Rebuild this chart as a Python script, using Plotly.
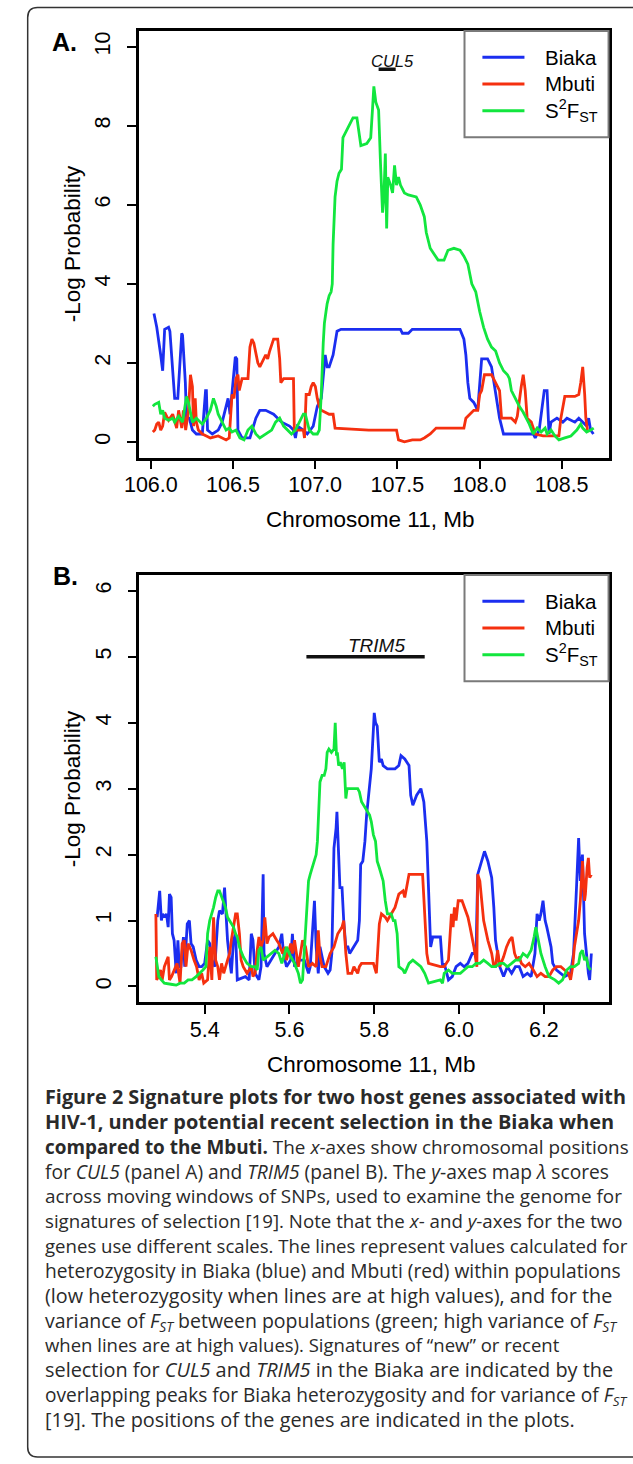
import plotly.graph_objects as go

W, H = 633, 1464

# ---------------- Panel A data (Chromosome 11, Mb ; -Log Probability) ----------------
a_biaka_x = [106.019, 106.036, 106.060, 106.072, 106.084, 106.108, 106.116, 106.133, 106.145, 106.164,
             106.169, 106.188, 106.193, 106.205, 106.210, 106.217, 106.234, 106.253, 106.277, 106.313,
             106.333, 106.338, 106.345, 106.374, 106.410, 106.434, 106.470, 106.482, 106.514, 106.523,
             106.530, 106.555, 106.603, 106.639, 106.663, 106.699, 106.747, 106.796, 106.844, 106.868,
             106.880, 106.892, 106.928, 106.952, 106.988, 107.013, 107.037, 107.061, 107.073, 107.085,
             107.109, 107.121, 107.133, 107.157, 107.519, 107.531, 107.567, 107.591, 107.881, 107.905,
             107.917, 107.929, 107.941, 107.965, 107.989, 108.013, 108.049, 108.073, 108.098, 108.122,
             108.146, 108.327, 108.339, 108.363, 108.394, 108.411, 108.423, 108.435, 108.471, 108.507,
             108.532, 108.580, 108.604, 108.628, 108.652, 108.664, 108.676, 108.693]
a_biaka_y = [3.25, 2.9, 2.2, 1.8, 2.85, 2.9, 2.8, 1.8, 1.1, 1.1,
             1.4, 2.75, 2.7, 2.0, 1.5, 0.6, 0.6, 0.3, 0.2, 0.2,
             1.3, 1.3, 0.3, 0.2, 0.3, 0.5, 1.1, 0.7, 2.15, 2.1,
             0.3, 0.1, 0.1, 0.6, 0.8, 0.8, 0.7, 0.5, 0.4, 0.3,
             0.1, 0.4, 0.3, 0.2, 0.4, 0.9, 1.1, 2.2, 1.9, 1.9,
             2.2, 2.5, 2.8, 2.85, 2.85, 2.75, 2.75, 2.85, 2.85, 2.6,
             2.2, 1.5, 1.1, 1.0, 0.8, 2.1, 2.1, 1.9, 1.2, 0.6,
             0.2, 0.2, 0.1, 0.3, 1.3, 1.3, 0.2, 0.5, 0.6, 0.5,
             0.6, 0.5, 0.6, 0.5, 0.4, 0.6, 0.3, 0.2]

a_mbuti_x = [106.012, 106.024, 106.036, 106.048, 106.060, 106.072, 106.084, 106.108, 106.133, 106.157,
             106.169, 106.188, 106.198, 106.212, 106.229, 106.241, 106.253, 106.260, 106.270, 106.277,
             106.289, 106.313, 106.338, 106.362, 106.410, 106.434, 106.458, 106.477, 106.482, 106.494,
             106.506, 106.518, 106.530, 106.538, 106.555, 106.591, 106.603, 106.615, 106.627, 106.639,
             106.651, 106.663, 106.687, 106.699, 106.711, 106.723, 106.747, 106.772, 106.784, 106.791,
             106.808, 106.868, 106.873, 106.928, 106.935, 106.945, 106.964, 106.976, 106.988, 107.001,
             107.013, 107.025, 107.037, 107.085, 107.109, 107.121, 107.326, 107.495, 107.507, 107.543,
             107.591, 107.639, 107.664, 107.700, 107.736, 107.905, 107.917, 107.941, 107.965, 107.989,
             108.001, 108.013, 108.030, 108.073, 108.098, 108.110, 108.122, 108.134, 108.194, 108.218,
             108.230, 108.254, 108.266, 108.278, 108.290, 108.315, 108.339, 108.387, 108.483, 108.495,
             108.519, 108.580, 108.604, 108.616, 108.628, 108.640, 108.647, 108.657]
a_mbuti_y = [0.25, 0.3, 0.45, 0.5, 0.3, 0.4, 0.75, 0.55, 0.7, 0.35,
             0.8, 0.35, 0.8, 0.3, 0.8, 1.7, 1.4, 0.4, 1.1, 0.5,
             0.3, 0.2, 0.15, 0.1, 0.15, 0.1, 0.05, 0.1, 0.5, 1.2,
             1.1, 1.6, 1.7, 1.3, 1.6, 1.6, 2.4, 2.6, 2.5, 2.2,
             2.0, 1.9, 2.1, 2.2, 2.1, 2.3, 2.6, 2.6, 2.1, 1.5,
             1.6, 1.6, 0.3, 0.3, 0.1, 1.2, 1.2, 1.4, 1.5, 1.4,
             1.1, 0.9, 0.8, 0.7, 0.7, 0.35, 0.3, 0.3, 0.05, 0.0,
             0.05, 0.05, 0.1, 0.2, 0.35, 0.35, 0.6, 0.7, 0.8, 0.8,
             1.2, 1.3, 1.7, 1.7, 1.5, 1.4, 1.3, 0.6, 0.6, 0.5,
             0.65, 1.4, 1.7, 1.3, 0.6, 0.5, 0.2, 0.15, 0.15, 0.6,
             1.15, 1.15, 1.2, 1.5, 1.9, 1.2, 0.6, 0.3]

a_s2fst_x = [106.012, 106.024, 106.048, 106.060, 106.072, 106.084, 106.108, 106.133, 106.145, 106.169,
             106.193, 106.217, 106.229, 106.241, 106.253, 106.277, 106.301, 106.313, 106.338, 106.362,
             106.381, 106.398, 106.410, 106.434, 106.458, 106.477, 106.494, 106.518, 106.542, 106.567,
             106.591, 106.615, 106.639, 106.663, 106.699, 106.735, 106.759, 106.784, 106.808, 106.832,
             106.856, 106.880, 106.904, 106.928, 106.940, 106.952, 106.964, 106.988, 107.013, 107.025,
             107.037, 107.049, 107.056, 107.066, 107.073, 107.085, 107.097, 107.104, 107.109, 107.121,
             107.133, 107.145, 107.160, 107.169, 107.193, 107.218, 107.230, 107.254, 107.266, 107.278,
             107.314, 107.338, 107.350, 107.357, 107.369, 107.386, 107.398, 107.410, 107.418, 107.427,
             107.435, 107.442, 107.459, 107.471, 107.483, 107.495, 107.507, 107.519, 107.543, 107.567,
             107.615, 107.639, 107.664, 107.676, 107.700, 107.724, 107.748, 107.784, 107.808, 107.844,
             107.881, 107.905, 107.929, 107.953, 107.977, 108.001, 108.025, 108.049, 108.073, 108.098,
             108.122, 108.146, 108.170, 108.182, 108.194, 108.218, 108.242, 108.266, 108.290, 108.303,
             108.327, 108.351, 108.375, 108.399, 108.411, 108.435, 108.459, 108.483, 108.519, 108.556,
             108.592, 108.616, 108.628, 108.652, 108.676, 108.695]
a_s2fst_y = [0.9, 0.95, 1.0, 0.7, 0.8, 0.6, 0.55, 0.6, 0.5, 0.65,
             0.5, 1.15, 1.0, 0.7, 0.5, 0.6, 0.5, 0.45, 0.6, 0.8,
             1.1, 0.9, 0.7, 0.5, 0.3, 0.35, 0.25, 0.3, 0.1, 0.05,
             0.3, 0.4, 0.2, 0.1, 0.2, 0.3, 0.5, 0.6, 0.4, 0.3,
             0.2, 0.3, 0.5, 0.7, 0.7, 0.5, 0.3, 0.2, 0.2, 0.3,
             1.2, 2.5, 3.0, 3.3, 3.5, 3.7, 3.8, 4.0, 5.0, 6.2,
             6.6, 6.8, 6.9, 7.7, 7.9, 8.1, 8.2, 8.2, 7.8, 7.5,
             7.55, 7.7, 8.5, 9.0, 8.6, 8.4, 7.0, 5.8, 6.2, 7.3,
             5.4, 6.7, 6.5, 6.3, 7.0, 6.5, 6.7, 6.5, 6.3, 6.25,
             6.2, 6.0, 5.7, 5.3, 4.9, 4.75, 4.6, 4.6, 4.85, 4.9,
             4.85, 4.7, 4.5, 4.0, 3.8, 3.3, 2.9, 2.6, 2.4, 2.3,
             2.0, 1.8, 1.7, 1.6, 1.3, 1.1, 0.9, 0.75, 0.55, 0.45,
             0.2, 0.35, 0.25, 0.35, 0.2, 0.3, 0.15, 0.05, 0.1, 0.15,
             0.3, 0.45, 0.35, 0.25, 0.3, 0.35]

# ---------------- Panel B data ----------------
b_biaka_x = [5.288, 5.294, 5.298, 5.301, 5.305, 5.310, 5.314, 5.317, 5.321, 5.324,
             5.328, 5.333, 5.337, 5.340, 5.344, 5.350, 5.353, 5.359, 5.364, 5.368,
             5.373, 5.380, 5.387, 5.393, 5.400, 5.407, 5.412, 5.417, 5.424, 5.431,
             5.435, 5.442, 5.447, 5.450, 5.454, 5.459, 5.463, 5.468, 5.473, 5.477,
             5.496, 5.505, 5.510, 5.514, 5.519, 5.528, 5.533, 5.538, 5.540, 5.547,
             5.556, 5.566, 5.575, 5.582, 5.586, 5.593, 5.603, 5.607, 5.612, 5.621,
             5.635, 5.645, 5.649, 5.654, 5.659, 5.663, 5.668, 5.672, 5.682, 5.691,
             5.696, 5.700, 5.705, 5.710, 5.712, 5.716, 5.719, 5.724, 5.728, 5.733,
             5.738, 5.742, 5.752, 5.761, 5.765, 5.768, 5.773, 5.778, 5.782, 5.786,
             5.789, 5.793, 5.798, 5.800, 5.803, 5.807, 5.812, 5.817, 5.821, 5.831,
             5.849, 5.858, 5.863, 5.872, 5.882, 5.886, 5.891, 5.900, 5.910, 5.917,
             5.924, 5.928, 5.933, 5.938, 5.956, 5.961, 5.965, 5.975, 5.984, 5.993,
             6.003, 6.012, 6.021, 6.031, 6.040, 6.044, 6.049, 6.060, 6.068, 6.077,
             6.082, 6.086, 6.096, 6.105, 6.114, 6.124, 6.133, 6.142, 6.151, 6.161,
             6.170, 6.179, 6.184, 6.189, 6.193, 6.198, 6.203, 6.207, 6.217, 6.221,
             6.230, 6.240, 6.249, 6.263, 6.270, 6.277, 6.282, 6.286, 6.291, 6.296,
             6.300, 6.305, 6.308, 6.312]
b_biaka_y = [1.05, 1.45, 1.0, 1.1, 1.05, 1.1, 0.9, 1.4, 1.35, 0.8,
             0.7, 0.2, 0.7, 0.3, 0.3, 0.75, 0.3, 0.95, 1.0, 0.65,
             0.6, 0.4, 0.3, 0.3, 0.35, 0.7, 0.65, 0.4, 0.3, 1.0,
             1.15, 1.1, 1.5, 1.2, 0.7, 0.4, 0.2, 0.7, 0.8, 0.1,
             0.15, 0.1, 0.8, 0.7, 0.2, 0.1, 0.3, 1.7, 0.5, 0.3,
             0.4, 0.5, 0.6, 0.8, 0.5, 0.3, 0.4, 0.8, 0.3, 0.4,
             0.4, 0.2, 0.3, 0.8, 1.3, 0.6, 0.2, 0.6, 0.3, 0.2,
             0.25, 0.5, 2.1, 2.4, 2.65, 2.0, 1.5, 1.5, 1.0, 0.6,
             0.6, 0.5, 0.6, 0.7, 1.0, 1.85, 1.9, 2.2, 2.6, 2.9,
             3.0, 3.3, 3.9, 4.15, 4.0, 3.95, 3.4, 3.45, 3.35, 3.3,
             3.3, 3.35, 3.5, 3.45, 3.35, 2.9, 2.75, 2.9, 3.0, 2.8,
             2.2, 1.5, 0.6, 0.75, 0.75, 0.3, 0.35, 0.1, 0.15, 0.3,
             0.35, 0.3, 0.35, 0.5, 0.5, 1.7, 1.8, 2.05, 1.9, 1.65,
             1.2, 0.7, 0.3, 0.15, 0.3, 0.2, 0.3, 0.3, 0.15, 0.2,
             0.15, 0.5, 1.1, 1.0, 1.1, 1.3, 1.0, 0.9, 0.6, 0.35,
             0.25, 0.2, 0.15, 0.2, 0.5, 1.5, 2.25, 1.6, 2.0, 0.8,
             0.5, 0.2, 0.1, 0.5]

b_mbuti_x = [5.285, 5.287, 5.291, 5.296, 5.300, 5.305, 5.314, 5.317, 5.322, 5.328,
             5.335, 5.342, 5.347, 5.352, 5.356, 5.361, 5.368, 5.375, 5.381, 5.387,
             5.393, 5.398, 5.407, 5.412, 5.417, 5.421, 5.426, 5.431, 5.435, 5.440,
             5.445, 5.454, 5.459, 5.463, 5.468, 5.473, 5.477, 5.482, 5.486, 5.491,
             5.500, 5.510, 5.514, 5.519, 5.524, 5.528, 5.533, 5.538, 5.542, 5.547,
             5.552, 5.561, 5.570, 5.575, 5.584, 5.589, 5.593, 5.603, 5.607, 5.612,
             5.621, 5.626, 5.631, 5.638, 5.645, 5.654, 5.663, 5.668, 5.672, 5.677,
             5.686, 5.696, 5.705, 5.714, 5.724, 5.728, 5.733, 5.738, 5.747, 5.752,
             5.761, 5.765, 5.770, 5.798, 5.805, 5.812, 5.817, 5.826, 5.831, 5.840,
             5.849, 5.858, 5.868, 5.872, 5.877, 5.882, 5.914, 5.919, 5.924, 5.928,
             5.956, 5.965, 5.970, 5.975, 5.979, 5.982, 5.986, 5.989, 5.993, 5.998,
             6.007, 6.012, 6.021, 6.026, 6.035, 6.042, 6.044, 6.049, 6.054, 6.058,
             6.068, 6.077, 6.082, 6.086, 6.091, 6.096, 6.105, 6.112, 6.119, 6.125,
             6.131, 6.137, 6.142, 6.147, 6.156, 6.165, 6.175, 6.184, 6.193, 6.203,
             6.212, 6.221, 6.230, 6.240, 6.249, 6.258, 6.263, 6.268, 6.272, 6.282,
             6.286, 6.291, 6.296, 6.298, 6.302, 6.305, 6.308, 6.312]
b_mbuti_y = [1.1, 0.1, 0.15, 0.25, 0.1, 0.3, 0.45, 0.1, 0.15, 0.25,
             0.35, 0.05, 0.65, 0.7, 0.3, 0.65, 0.55, 0.4, 0.3, 0.1,
             0.2, 0.05, 0.1, 0.6, 0.1, 1.05, 0.4, 0.3, 0.1, 0.35,
             0.2, 0.4, 0.5, 0.7, 0.9, 1.1, 1.1, 0.8, 0.4, 0.3,
             0.2, 0.3, 0.15, 0.2, 0.55, 0.75, 0.6, 0.7, 1.05, 0.65,
             0.75, 0.8, 0.7, 0.65, 0.5, 0.6, 0.4, 0.65, 0.5, 0.7,
             0.3, 0.5, 0.7, 0.6, 0.3, 0.35, 0.3, 0.85, 0.45, 0.3,
             0.3, 0.5, 0.6, 0.8, 0.9, 1.0, 0.5, 0.2, 0.2, 0.3,
             0.2, 0.3, 0.35, 0.35, 0.2, 0.95, 1.1, 1.05, 1.0, 1.1,
             1.2, 1.4, 1.45, 1.35, 1.55, 1.7, 1.7, 1.0, 0.5, 0.35,
             0.3, 0.3, 0.35, 0.4, 0.8, 1.1, 0.9, 1.2, 1.0, 1.3,
             1.3, 1.2, 1.05, 0.9, 0.6, 0.3, 1.7, 1.6, 1.3, 1.0,
             0.7, 0.5, 0.3, 0.3, 0.55, 0.3, 0.45, 0.6, 0.7, 0.75,
             0.5, 0.4, 0.45, 0.35, 0.3, 0.35, 0.25, 0.15, 0.2, 0.15,
             0.15, 0.25, 0.3, 0.3, 0.25, 0.2, 0.1, 0.3, 0.6, 1.0,
             1.3, 1.9, 1.3, 1.4, 1.8, 1.95, 1.65, 1.7]

b_s2fst_x = [5.285, 5.288, 5.292, 5.298, 5.305, 5.324, 5.333, 5.342, 5.352, 5.361,
             5.370, 5.380, 5.389, 5.396, 5.403, 5.407, 5.412, 5.417, 5.421, 5.426,
             5.431, 5.435, 5.440, 5.445, 5.449, 5.454, 5.459, 5.463, 5.468, 5.473,
             5.477, 5.482, 5.491, 5.500, 5.510, 5.519, 5.524, 5.528, 5.533, 5.538,
             5.547, 5.556, 5.566, 5.575, 5.582, 5.589, 5.593, 5.603, 5.612, 5.621,
             5.626, 5.631, 5.640, 5.645, 5.649, 5.659, 5.663, 5.666, 5.670, 5.672,
             5.677, 5.682, 5.686, 5.689, 5.693, 5.699, 5.705, 5.708, 5.711, 5.713,
             5.716, 5.720, 5.725, 5.729, 5.733, 5.736, 5.761, 5.765, 5.770, 5.779,
             5.789, 5.793, 5.798, 5.803, 5.807, 5.812, 5.821, 5.826, 5.831, 5.840,
             5.845, 5.849, 5.854, 5.858, 5.868, 5.872, 5.882, 5.891, 5.900, 5.910,
             5.919, 5.928, 5.956, 5.961, 5.965, 5.975, 5.984, 6.003, 6.012, 6.021,
             6.031, 6.040, 6.049, 6.058, 6.068, 6.077, 6.086, 6.096, 6.105, 6.114,
             6.124, 6.133, 6.142, 6.151, 6.161, 6.170, 6.177, 6.181, 6.187, 6.193,
             6.203, 6.212, 6.226, 6.235, 6.244, 6.254, 6.263, 6.272, 6.282, 6.286,
             6.291, 6.296, 6.300, 6.305, 6.310]
b_s2fst_y = [0.45, 0.3, 0.15, 0.1, 0.05, 0.03, 0.02, 0.05, 0.05, 0.1,
             0.1, 0.15, 0.2, 0.25, 0.3, 0.8, 1.0, 1.1, 1.2, 1.35,
             1.45, 1.45, 1.35, 1.25, 1.2, 1.05, 1.0, 0.95, 0.9, 0.8,
             0.75, 0.6, 0.45, 0.35, 0.3, 0.3, 0.25, 0.55, 0.6, 0.4,
             0.45, 0.5, 0.55, 0.5, 0.35, 0.5, 0.6, 0.45, 0.35, 0.2,
             0.05, 0.1, 1.0, 1.6, 1.7, 1.9, 2.0, 2.2, 2.7, 3.1,
             3.2, 3.2, 3.3, 3.55, 3.6, 3.55, 3.6, 4.0, 3.5, 3.55,
             3.35, 3.4, 3.3, 3.4, 2.85, 3.0, 3.0, 2.95, 2.8, 2.7,
             2.6, 2.5, 2.3, 2.2, 1.9, 1.8, 1.6, 1.3, 1.1, 1.1,
             1.0, 1.0, 0.8, 0.3, 0.25, 0.2, 0.35, 0.4, 0.35, 0.3,
             0.2, 0.05, 0.1, 0.05, 0.2, 0.25, 0.2, 0.2, 0.25, 0.3,
             0.3, 0.35, 0.35, 0.4, 0.35, 0.3, 0.3, 0.35, 0.35, 0.3,
             0.35, 0.4, 0.4, 0.5, 0.45, 0.55, 0.75, 0.9, 0.7, 0.5,
             0.3, 0.15, 0.1, 0.05, 0.1, 0.25, 0.3, 0.3, 0.35, 0.5,
             0.55, 0.4, 0.45, 0.3, 0.25]

# gene positions (Mb) and the level at which they are drawn
cul5_span = [107.386, 107.490]
cul5_level = 9.43
trim5_span = [5.640, 5.919]
trim5_level = 5.0

# axis ticks
a_xticks = [106.0, 106.5, 107.0, 107.5, 108.0, 108.5]
a_yticks = [0, 2, 4, 6, 8, 10]
b_xticks = [5.4, 5.6, 5.8, 6.0, 6.2]
b_yticks = [0, 1, 2, 3, 4, 5, 6]

series_names = ["Biaka", "Mbuti", "S<sup>2</sup>F<sub>ST</sub>"]
series_colors = ["#1b2ef0", "#f5300f", "#12e63e"]

caption_lines = [
    "<b>Figure 2 Signature plots for two host genes associated with</b>",
    "<b>HIV-1, under potential recent selection in the Biaka when</b>",
    "<b>compared to the Mbuti.</b> The <i>x</i>-axes show chromosomal positions",
    "for <i>CUL5</i> (panel A) and <i>TRIM5</i> (panel B). The <i>y</i>-axes map <i>λ</i> scores",
    "across moving windows of SNPs, used to examine the genome for",
    "signatures of selection [19]. Note that the <i>x</i>- and <i>y</i>-axes for the two",
    "genes use different scales. The lines represent values calculated for",
    "heterozygosity in Biaka (blue) and Mbuti (red) within populations",
    "(low heterozygosity when lines are at high values), and for the",
    "variance of <i>F<sub>ST</sub></i> between populations (green; high variance of <i>F<sub>ST</sub></i>",
    "when lines are at high values). Signatures of \u201cnew\u201d or recent",
    "selection for <i>CUL5</i> and <i>TRIM5</i> in the Biaka are indicated by the",
    "overlapping peaks for Biaka heterozygosity and for variance of <i>F<sub>ST</sub></i>",
    "[19]. The positions of the genes are indicated in the plots.",
]
# glyph size of each caption line (px), so that line lengths follow the reference
caption_sizes = [19.8, 19.95, 18.9, 19.2, 18.85, 18.7, 18.6, 19.2, 19.8, 19.5,
                 18.5, 19.9, 19.1, 19.9]

# ---------------- helpers (pixel -> paper) ----------------
def px(x):
    return x / W


def py(y):
    return 1 - y / H


PLOT_FONT = "Liberation Sans, Arial, Helvetica, sans-serif"

fig = go.Figure()

panels = [
    (("x", "y"), [(a_biaka_x, a_biaka_y), (a_mbuti_x, a_mbuti_y), (a_s2fst_x, a_s2fst_y)],
     cul5_span, cul5_level),
    (("x2", "y2"), [(b_biaka_x, b_biaka_y), (b_mbuti_x, b_mbuti_y), (b_s2fst_x, b_s2fst_y)],
     trim5_span, trim5_level),
]
for (xa, ya), series, span, level in panels:
    for (xs, ys), name, col in zip(series, series_names, series_colors):
        fig.add_trace(go.Scatter(x=xs, y=ys, mode="lines", name=name, xaxis=xa, yaxis=ya,
                                 line=dict(color=col, width=2.8), showlegend=False))
    fig.add_trace(go.Scatter(x=span, y=[level, level], mode="lines", xaxis=xa, yaxis=ya,
                             line=dict(color="#111111", width=3.5), showlegend=False))

axis_common = dict(showline=True, mirror=True, linecolor="black", linewidth=2.5,
                   ticks="outside", ticklen=9, tickwidth=2, tickcolor="black",
                   showgrid=False, zeroline=False,
                   tickfont=dict(family=PLOT_FONT, size=21.5, color="black"))

fig.update_layout(
    width=W, height=H, autosize=False,
    margin=dict(l=0, r=0, t=0, b=0),
    paper_bgcolor="white", plot_bgcolor="white",
    showlegend=False,
    xaxis=dict(domain=[px(127.5), px(608.3)], range=[105.926, 108.787], anchor="y",
               tickvals=a_xticks, ticktext=[f"{v:.1f}" for v in a_xticks],
               ticklabelstandoff=-3, **axis_common),
    yaxis=dict(domain=[py(457.7), py(31)], range=[-0.4, 10.4], anchor="x",
               tickvals=a_yticks, ticktext=[str(v) for v in a_yticks], tickangle=-90,
               ticklabelstandoff=8, **axis_common),
    xaxis2=dict(domain=[px(128.3), px(608.4)], range=[5.2463, 6.3535], anchor="y2",
                tickvals=b_xticks, ticktext=[f"{v:.1f}" for v in b_xticks],
                ticklabelstandoff=-3, **axis_common),
    yaxis2=dict(domain=[py(1002.3), py(575)], range=[-0.24, 6.24], anchor="x2",
                tickvals=b_yticks, ticktext=[str(v) for v in b_yticks], tickangle=-90,
                ticklabelstandoff=8, **axis_common),
)

ann = []
shapes = []


def paper_text(text, x, y, size, xanchor="center", angle=0, family=PLOT_FONT, color="black"):
    return dict(text=text, x=px(x), y=py(y), xref="paper", yref="paper",
                xanchor=xanchor, yanchor="middle", textangle=angle, showarrow=False,
                font=dict(family=family, size=size, color=color))


# panel letters
ann.append(paper_text("<b>A.</b>", 52, 42, 25))
ann.append(paper_text("<b>B.</b>", 53, 576, 25))

# axis titles
ann.append(paper_text("Chromosome 11, Mb", 364, 519, 22.5))
ann.append(paper_text("Chromosome 11, Mb", 365, 1064, 22.5))
ann.append(paper_text("-Log Probability", 60.5, 244, 22.5, angle=-90))
ann.append(paper_text("-Log Probability", 60.5, 789, 22.5, angle=-90))

# gene labels
ann.append(dict(text="<i>CUL5</i>", x=107.471, y=9.64, xref="x", yref="y", showarrow=False,
                xanchor="center", yanchor="middle",
                font=dict(family=PLOT_FONT, size=16.5, color="#111111")))
ann.append(dict(text="<i>TRIM5</i>", x=5.805, y=5.17, xref="x2", yref="y2", showarrow=False,
                xanchor="center", yanchor="middle",
                font=dict(family=PLOT_FONT, size=19, color="#111111")))

# legends (boxes, samples, labels)
for top in [31, 575]:
    shapes.append(dict(type="rect", xref="paper", yref="paper",
                       x0=px(460.7), x1=px(608), y0=py(top + 106.3), y1=py(top),
                       line=dict(color="#7a7a7a", width=2), fillcolor="white", layer="above"))
    for i, (name, col) in enumerate(zip(series_names, series_colors)):
        yy = top + 26.3 + 26.7 * i
        shapes.append(dict(type="line", xref="paper", yref="paper",
                           x0=px(479), x1=px(522), y0=py(yy), y1=py(yy),
                           line=dict(color=col, width=3), layer="above"))
        ann.append(paper_text(name, 541, yy, 20.5, xanchor="left"))

# caption: one multi-line text block (line pitch = 1.3 x base size)
CAP_FONT = "Open Sans, Noto Sans, sans-serif"
first_line, last_line = 1096, 1419
pitch = (last_line - first_line) / (len(caption_lines) - 1)
base_size = pitch / 1.3
caption_html = "<br>".join(
    f'<span style="font-size:{s}px">{t}</span>' for t, s in zip(caption_lines, caption_sizes))
cap = paper_text(caption_html, 30, (first_line + last_line) / 2, base_size, xanchor="left",
                 family=CAP_FONT, color="#2a2a2a")
cap["align"] = "left"
ann.append(cap)

# rounded outer frame (its right side runs past the page edge)
fl, fr, ft, fb, r = 14, 660, 7.5, 1457, 10
rx, ry = r / W, r / H
x0, x1, y0, y1 = px(fl), px(fr), py(fb), py(ft)
path = (f"M {x0 + rx},{y1} L {x1 - rx},{y1} Q {x1},{y1} {x1},{y1 - ry} "
        f"L {x1},{y0 + ry} Q {x1},{y0} {x1 - rx},{y0} L {x0 + rx},{y0} "
        f"Q {x0},{y0} {x0},{y0 + ry} L {x0},{y1 - ry} Q {x0},{y1} {x0 + rx},{y1} Z")
shapes.append(dict(type="path", xref="paper", yref="paper", path=path,
                   line=dict(color="#333333", width=1.5)))

fig.update_layout(annotations=ann, shapes=shapes)
fig.write_html("out.html", config={"displayModeBar": False},
               post_script="document.body.style.margin='0';document.body.style.overflow='hidden';")
